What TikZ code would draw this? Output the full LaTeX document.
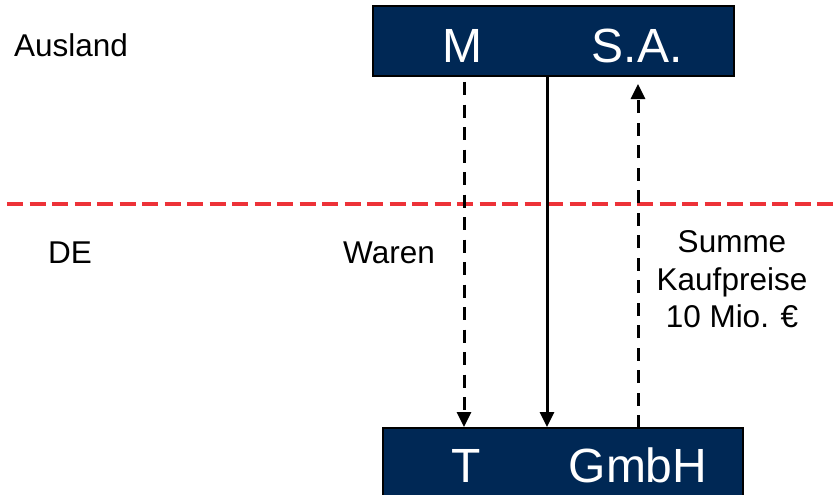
\documentclass[tikz,border=0pt]{standalone}
\usepackage{fontspec}
\setmainfont{Liberation Sans}
\usetikzlibrary{arrows.meta}
\definecolor{navy}{RGB}{0,40,85}
\definecolor{borderred}{RGB}{237,50,56}
\begin{document}
\begin{tikzpicture}[x=1pt,y=-1pt,
  entity/.style={draw=black,line width=2.2pt,fill=navy},
  boxtext/.style={text=white,anchor=base,inner sep=0pt,font=\fontsize{48}{56}\selectfont},
  label/.style={anchor=base,inner sep=0pt,font=\fontsize{31.5}{37}\selectfont},
  flow/.style={line width=3pt,-{Triangle[length=15pt,width=14pt]}},
  dashflow/.style={flow,dash pattern=on 13pt off 9.5pt},
  border/.style={draw=borderred,line width=3.5pt,dash pattern=on 16pt off 6.5pt}]
\useasboundingbox (0,0) rectangle (833,495);
% boxes
\draw[entity] (373,6) rectangle (734,76);
\draw[entity] (383,428) rectangle (743,500);
\node[boxtext] (m) at (462,63) {M};
\node[boxtext] (sa) at (637,63) {S.A.};
\node[boxtext] (t) at (466,482) {T};
\node[boxtext] (gmbh) at (638,482) {GmbH};
% anchor points on boxes
\coordinate (a1) at (464,82);
\coordinate (a1e) at (464,427);
\coordinate (s1) at (547,76);
\coordinate (s1e) at (547,427);
\coordinate (r1) at (638,428);
\coordinate (r1e) at (638,84);
% border
\coordinate (bl) at (7,204);
\coordinate (br) at (840,204);
\draw[border] (bl) -- (br);
% arrows
\draw[dashflow] (a1) -- (a1e);
\draw[flow] (s1) -- (s1e);
\draw[dashflow] (r1) -- (r1e);
% labels
\node[label] (ausland) at (71,57) {Ausland};
\node[label] (de) at (70,263) {DE};
\node[label] (waren) at (389,263) {Waren};
\node[label] (sum1) at (732,252) {Summe};
\node[label] (sum2) at (732,290) {Kaufpreise};
\node[label] (sum3) at (732,327) {10 Mio. €};
\end{tikzpicture}
\end{document}
